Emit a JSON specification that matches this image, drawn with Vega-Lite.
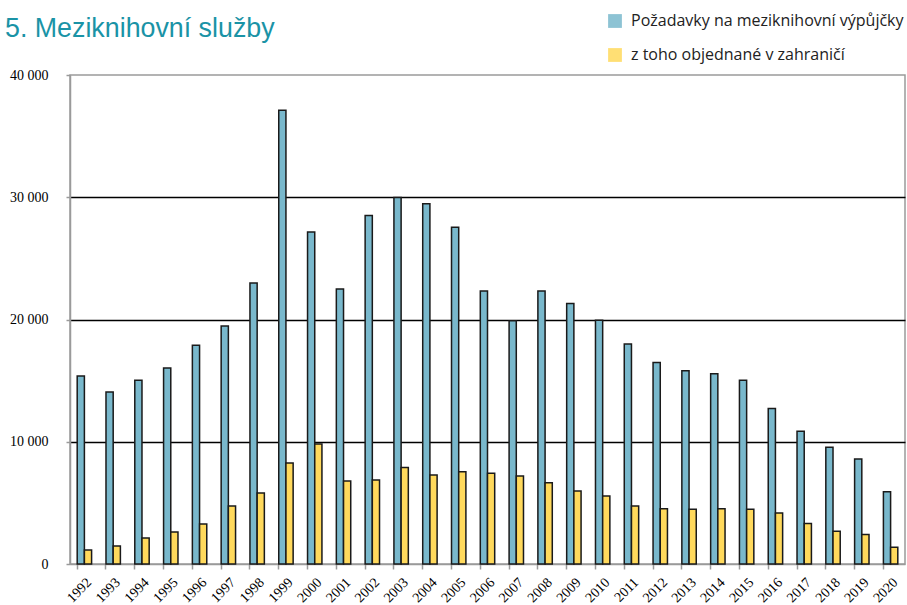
{
  "$schema": "https://vega.github.io/schema/vega-lite/v6.json",
  "width": 835,
  "height": 489,
  "autosize": {"type": "none"},
  "padding": {"left": 70, "top": 75, "right": 2, "bottom": 41},
  "background": "white",
  "title": {
    "text": "5. Meziknihovní služby",
    "orient": "top",
    "anchor": "start",
    "frame": "group",
    "dx": -65,
    "offset": 0,
    "dy": 30,
    "font": "Liberation Sans",
    "fontSize": 26.8,
    "fontWeight": "normal",
    "color": "#1a93a6"
  },
  "config": {
    "view": {"stroke": "#9a9a9a", "strokeWidth": 1.5}
  },
  "data": {
    "values": [
      {"year": "1992", "s": "Požadavky na meziknihovní výpůjčky", "v": 15370},
      {"year": "1993", "s": "Požadavky na meziknihovní výpůjčky", "v": 14060},
      {"year": "1994", "s": "Požadavky na meziknihovní výpůjčky", "v": 15040},
      {"year": "1995", "s": "Požadavky na meziknihovní výpůjčky", "v": 16030},
      {"year": "1996", "s": "Požadavky na meziknihovní výpůjčky", "v": 17900},
      {"year": "1997", "s": "Požadavky na meziknihovní výpůjčky", "v": 19460},
      {"year": "1998", "s": "Požadavky na meziknihovní výpůjčky", "v": 22980},
      {"year": "1999", "s": "Požadavky na meziknihovní výpůjčky", "v": 37120},
      {"year": "2000", "s": "Požadavky na meziknihovní výpůjčky", "v": 27150},
      {"year": "2001", "s": "Požadavky na meziknihovní výpůjčky", "v": 22490},
      {"year": "2002", "s": "Požadavky na meziknihovní výpůjčky", "v": 28500},
      {"year": "2003", "s": "Požadavky na meziknihovní výpůjčky", "v": 29970},
      {"year": "2004", "s": "Požadavky na meziknihovní výpůjčky", "v": 29460},
      {"year": "2005", "s": "Požadavky na meziknihovní výpůjčky", "v": 27540},
      {"year": "2006", "s": "Požadavky na meziknihovní výpůjčky", "v": 22340},
      {"year": "2007", "s": "Požadavky na meziknihovní výpůjčky", "v": 19900},
      {"year": "2008", "s": "Požadavky na meziknihovní výpůjčky", "v": 22340},
      {"year": "2009", "s": "Požadavky na meziknihovní výpůjčky", "v": 21300},
      {"year": "2010", "s": "Požadavky na meziknihovní výpůjčky", "v": 19940},
      {"year": "2011", "s": "Požadavky na meziknihovní výpůjčky", "v": 17990},
      {"year": "2012", "s": "Požadavky na meziknihovní výpůjčky", "v": 16480},
      {"year": "2013", "s": "Požadavky na meziknihovní výpůjčky", "v": 15800},
      {"year": "2014", "s": "Požadavky na meziknihovní výpůjčky", "v": 15570},
      {"year": "2015", "s": "Požadavky na meziknihovní výpůjčky", "v": 15040},
      {"year": "2016", "s": "Požadavky na meziknihovní výpůjčky", "v": 12720},
      {"year": "2017", "s": "Požadavky na meziknihovní výpůjčky", "v": 10860},
      {"year": "2018", "s": "Požadavky na meziknihovní výpůjčky", "v": 9550},
      {"year": "2019", "s": "Požadavky na meziknihovní výpůjčky", "v": 8590},
      {"year": "2020", "s": "Požadavky na meziknihovní výpůjčky", "v": 5900},
      {"year": "1992", "s": "z toho objednané v zahraničí", "v": 1140},
      {"year": "1993", "s": "z toho objednané v zahraničí", "v": 1470},
      {"year": "1994", "s": "z toho objednané v zahraničí", "v": 2130},
      {"year": "1995", "s": "z toho objednané v zahraničí", "v": 2620},
      {"year": "1996", "s": "z toho objednané v zahraničí", "v": 3270},
      {"year": "1997", "s": "z toho objednané v zahraničí", "v": 4740},
      {"year": "1998", "s": "z toho objednané v zahraničí", "v": 5800},
      {"year": "1999", "s": "z toho objednané v zahraničí", "v": 8260},
      {"year": "2000", "s": "z toho objednané v zahraničí", "v": 9810},
      {"year": "2001", "s": "z toho objednané v zahraničí", "v": 6790},
      {"year": "2002", "s": "z toho objednané v zahraničí", "v": 6870},
      {"year": "2003", "s": "z toho objednané v zahraničí", "v": 7900},
      {"year": "2004", "s": "z toho objednané v zahraničí", "v": 7280},
      {"year": "2005", "s": "z toho objednané v zahraničí", "v": 7540},
      {"year": "2006", "s": "z toho objednané v zahraničí", "v": 7420},
      {"year": "2007", "s": "z toho objednané v zahraničí", "v": 7200},
      {"year": "2008", "s": "z toho objednané v zahraničí", "v": 6650},
      {"year": "2009", "s": "z toho objednané v zahraničí", "v": 5970},
      {"year": "2010", "s": "z toho objednané v zahraničí", "v": 5560},
      {"year": "2011", "s": "z toho objednané v zahraničí", "v": 4740},
      {"year": "2012", "s": "z toho objednané v zahraničí", "v": 4510},
      {"year": "2013", "s": "z toho objednané v zahraničí", "v": 4480},
      {"year": "2014", "s": "z toho objednané v zahraničí", "v": 4510},
      {"year": "2015", "s": "z toho objednané v zahraničí", "v": 4480},
      {"year": "2016", "s": "z toho objednané v zahraničí", "v": 4180},
      {"year": "2017", "s": "z toho objednané v zahraničí", "v": 3320},
      {"year": "2018", "s": "z toho objednané v zahraničí", "v": 2680},
      {"year": "2019", "s": "z toho objednané v zahraničí", "v": 2420},
      {"year": "2020", "s": "z toho objednané v zahraničí", "v": 1380}
    ]
  },
  "mark": {"type": "bar", "stroke": "#1a1a1a", "strokeWidth": 1.5},
  "encoding": {
    "x": {
      "field": "year",
      "type": "nominal",
      "scale": {"paddingInner": 0.5, "paddingOuter": 0.25},
      "axis": {
        "title": null,
        "labelAngle": -45,
        "labelAlign": "right",
        "labelBaseline": "middle",
        "labelFont": "Liberation Serif",
        "labelFontSize": 14,
        "labelColor": "black",
        "labelPadding": 11,
        "labelOffset": 5,
        "bandPosition": 0,
        "domainColor": "#9a9a9a",
        "domainWidth": 1.5,
        "tickColor": "#9a9a9a",
        "tickWidth": 1.5,
        "tickSize": 5,
        "grid": false
      }
    },
    "xOffset": {"field": "s", "type": "nominal", "sort": ["Požadavky na meziknihovní výpůjčky", "z toho objednané v zahraničí"]},
    "y": {
      "field": "v",
      "type": "quantitative",
      "scale": {"domain": [0, 40000], "nice": false},
      "axis": {
        "title": null,
        "values": [0, 10000, 20000, 30000, 40000],
        "labelExpr": "replace(format(datum.value, ','), ',', ' ')",
        "labelFont": "Liberation Serif",
        "labelFontSize": 14,
        "labelColor": "black",
        "labelPadding": 18,
        "domainColor": "#9a9a9a",
        "domainWidth": 1.5,
        "tickColor": "#9a9a9a",
        "tickWidth": 1.5,
        "tickSize": 4,
        "grid": true,
        "gridColor": {"condition": {"test": "datum.value === 0 || datum.value === 40000", "value": "transparent"}, "value": "black"},
        "gridWidth": 1.5,
        "gridOpacity": 1
      }
    },
    "color": {
      "field": "s",
      "type": "nominal",
      "sort": ["Požadavky na meziknihovní výpůjčky", "z toho objednané v zahraničí"],
      "scale": {"range": ["#79b8cc", "#ffd95c"]},
      "legend": {
        "title": null,
        "orient": "none",
        "legendX": 537,
        "legendY": -62,
        "symbolType": "square",
        "symbolSize": 190,
        "symbolStrokeWidth": 0,
        "symbolOpacity": 0.85,
        "labelFont": "Open Sans",
        "labelFontSize": 16,
        "labelColor": "#222222",
        "labelOffset": 8,
        "rowPadding": 18,
        "labelLimit": 400
      }
    }
  }
}
